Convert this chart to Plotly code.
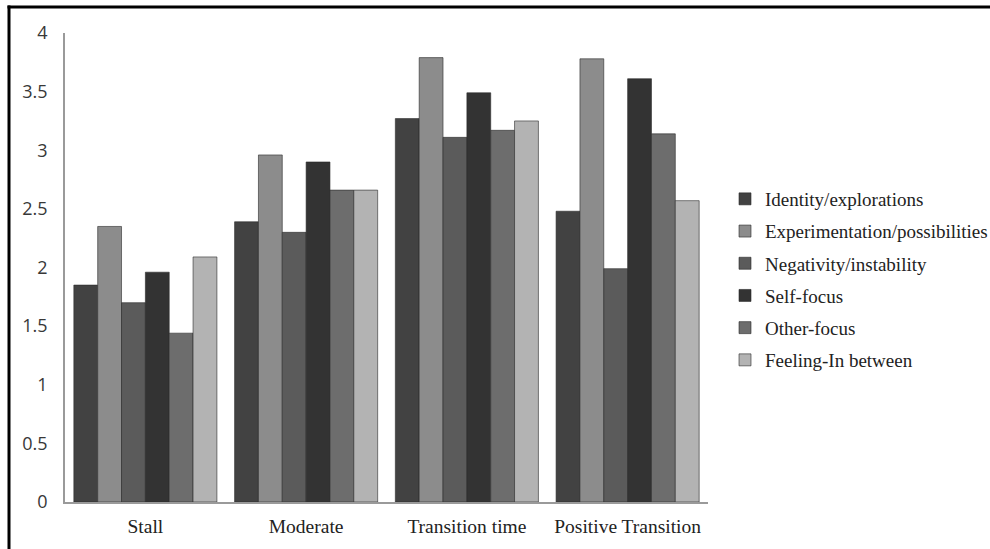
import plotly.graph_objects as go

categories = ["Stall", "Moderate", "Transition time", "Positive Transition"]
series_names = ["Identity/explorations", "Experimentation/possibilities",
                "Negativity/instability", "Self-focus", "Other-focus", "Feeling-In between"]
identity = [1.85, 2.39, 3.27, 2.48]
experimentation = [2.35, 2.96, 3.79, 3.78]
negativity = [1.70, 2.30, 3.11, 1.99]
self_focus = [1.96, 2.90, 3.49, 3.61]
other_focus = [1.44, 2.66, 3.17, 3.14]
feeling = [2.09, 2.66, 3.25, 2.57]
y_ticks = [0, 0.5, 1, 1.5, 2, 2.5, 3, 3.5, 4]
y_tick_labels = ["0", "0.5", "1", "1.5", "2", "2.5", "3", "3.5", "4"]

series_values = [identity, experimentation, negativity, self_focus, other_focus, feeling]
colors = ["#424242", "#8c8c8c", "#5b5b5b", "#333333", "#6d6d6d", "#b3b3b3"]

fig = go.Figure()
for name, vals, col in zip(series_names, series_values, colors):
    fig.add_trace(go.Bar(
        x=categories, y=vals, name=name, legendgroup=name,
        marker=dict(color=col, line=dict(color="#2a2a2a", width=0.6)),
    ))

W, H = 990, 549
L, R, T, B = 65, 282, 33, 47
pw, ph = W - L - R, H - T - B

def px2x(px):
    return (px - L) / pw

def px2y(py):
    return (H - B - py) / ph

fig.update_layout(
    width=W, height=H,
    margin=dict(l=L, r=R, t=T, b=B),
    paper_bgcolor="white", plot_bgcolor="white",
    barmode="group", bargap=0.11, bargroupgap=0,
    showlegend=True,
    legend=dict(
        xref="container", yref="container",
        x=725 / W, y=1 - 180 / H, xanchor="left", yanchor="top",
        font=dict(family="Liberation Serif", size=19, color="#222222"),
        traceorder="grouped", tracegroupgap=4.5,
        itemwidth=30,
    ),
    xaxis=dict(
        showline=True, linecolor="#9a9a9a", linewidth=1.5,
        ticks="", ticklabelstandoff=6,
        tickfont=dict(family="Liberation Serif", size=19.5, color="#222222"),
        showgrid=False,
    ),
    yaxis=dict(
        range=[0, 4], tickvals=y_ticks, ticktext=y_tick_labels,
        showline=True, linecolor="#9a9a9a", linewidth=1.5,
        ticks="", ticklabelstandoff=12,
        tickfont=dict(family="Open Sans", size=18, color="#383838"),
        showgrid=False, zeroline=False,
    ),
    shapes=[
        dict(type="line", xref="paper", yref="paper",
             x0=px2x(7.5), x1=px2x(995), y0=px2y(7), y1=px2y(7),
             line=dict(color="black", width=3)),
        dict(type="line", xref="paper", yref="paper",
             x0=px2x(9), x1=px2x(9), y0=px2y(5.5), y1=px2y(555),
             line=dict(color="black", width=3)),
    ],
)

fig.write_html("out.html",
               config={"displayModeBar": False},
               post_script="document.body.style.margin='0';document.body.style.overflow='hidden';")
